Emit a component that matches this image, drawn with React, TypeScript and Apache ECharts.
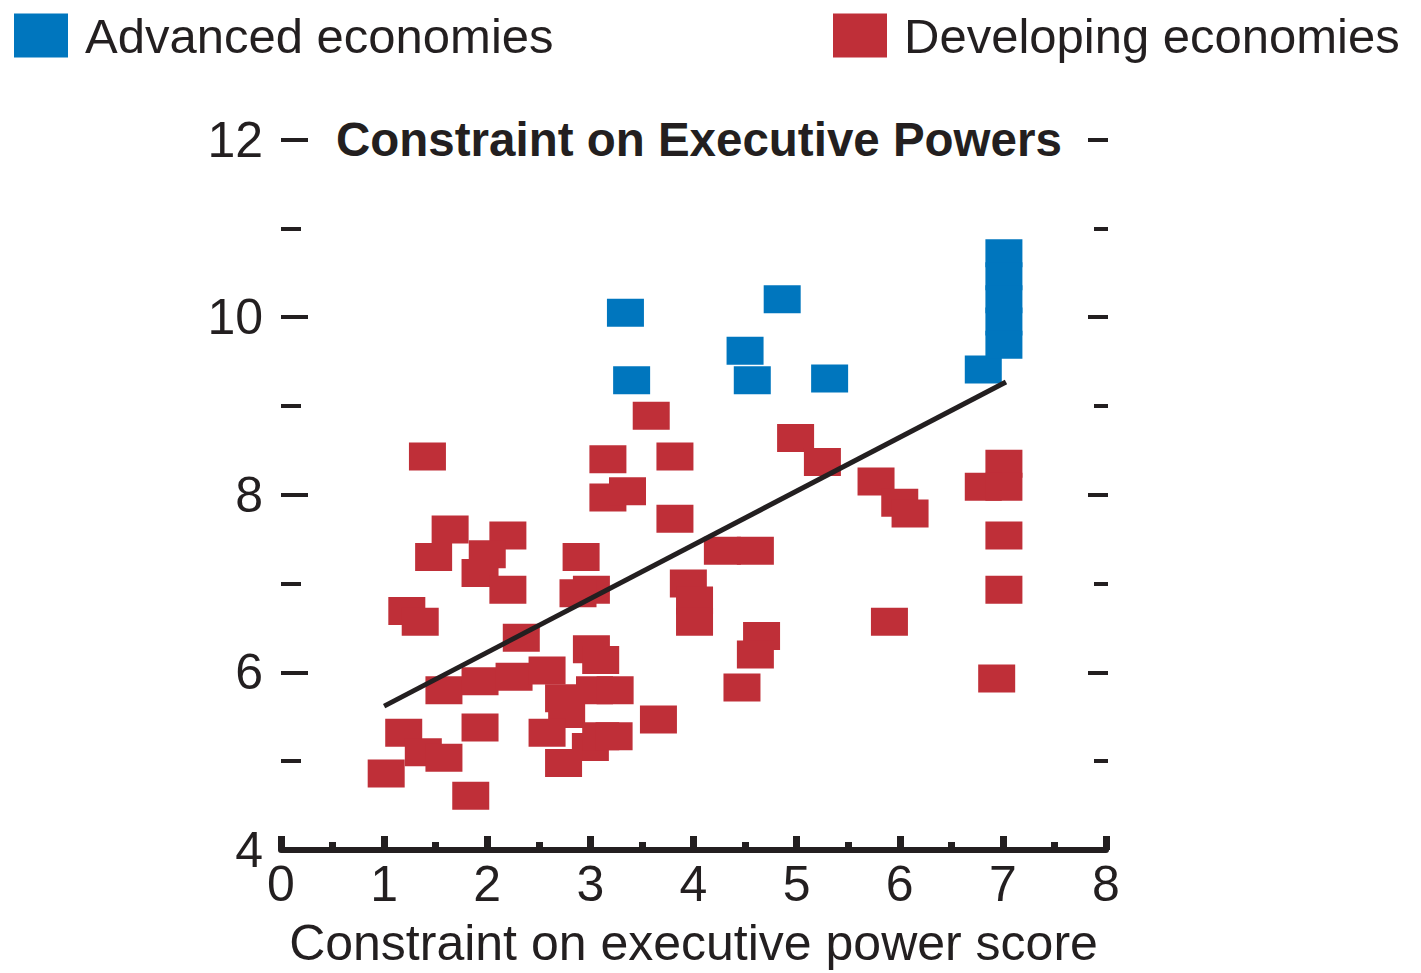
import React, { useEffect, useRef } from "react";
import * as echarts from "echarts";

const FONT = "'Liberation Sans', Arial, Helvetica, sans-serif";
const INK = "#231f20";
const BLUE = "#0076be";
const RED = "#bf2f38";

const seriesNames = ["Advanced economies", "Developing economies"];
const chartTitle = "Constraint on Executive Powers";
const xAxisName = "Constraint on executive power score";

const advancedX = [3.34, 3.40, 4.86, 4.50, 4.57, 5.32, 6.81, 7.01, 7.01, 7.01, 7.01, 7.01];
const advancedY = [10.05, 9.29, 10.20, 9.62, 9.29, 9.31, 9.41, 10.72, 10.46, 10.20, 9.95, 9.69];

const developingX = [
  3.59, 1.42, 3.17, 3.82, 3.17, 3.36, 3.82, 1.64, 2.20, 1.48,
  2.00, 1.93, 2.20, 2.91, 3.01, 2.88, 1.22, 1.35, 2.33, 3.01,
  3.10, 1.58, 1.93, 2.26, 2.58, 2.74, 3.04, 3.24, 2.77, 2.58,
  3.00, 3.10, 3.23, 2.74, 1.19, 1.38, 1.58, 1.93, 1.02, 1.84,
  3.66, 3.95, 4.01, 4.01, 4.99, 5.25, 5.77, 6.00, 6.10, 7.01,
  6.81, 7.01, 7.01, 7.01, 5.90, 6.94, 4.28, 4.60, 4.66, 4.60,
  4.47,
];
const developingY = [
  8.89, 8.43, 8.40, 8.43, 7.97, 8.04, 7.73, 7.61, 7.54, 7.30,
  7.33, 7.12, 6.93, 7.30, 6.93, 6.89, 6.69, 6.57, 6.39, 6.26,
  6.14, 5.80, 5.90, 5.95, 6.02, 5.71, 5.80, 5.80, 5.53, 5.32,
  5.16, 5.28, 5.28, 4.98, 5.32, 5.10, 5.04, 5.38, 4.86, 4.61,
  5.47, 7.00, 6.81, 6.57, 8.64, 8.37, 8.15, 7.91, 7.79, 8.35,
  8.09, 8.09, 7.54, 6.93, 6.57, 5.93, 7.37, 7.37, 6.41, 6.20,
  5.83,
];

const trendX = [1.0, 7.03];
const trendY = [5.62, 9.27];

const xTicks = [0, 1, 2, 3, 4, 5, 6, 7, 8];
const yTicks = [4, 6, 8, 10, 12];

function zip(xs: number[], ys: number[]) {
  return xs.map((x, i) => [x, ys[i]]);
}

export default function App() {
  const ref = useRef<HTMLDivElement>(null);

  useEffect(() => {
    if (!ref.current) return;
    const chart = echarts.init(ref.current, undefined, { renderer: "svg" });

    const labelStyle = { fontFamily: FONT, fontSize: 50, color: INK };
    const legendBase = {
      top: 11,
      padding: 0,
      itemWidth: 54,
      itemHeight: 44,
      icon: "rect",
      textStyle: { fontFamily: FONT, fontSize: 49, color: INK, padding: [0, 0, 10, 12] },
    };

    chart.setOption({
      animation: false,
      backgroundColor: "#ffffff",
      title: {
        text: chartTitle,
        left: 336,
        top: 115,
        padding: 0,
        textStyle: { fontFamily: FONT, fontSize: 47.5, fontWeight: "bold", color: INK },
      },
      legend: [
        { ...legendBase, data: [seriesNames[0]], left: 14 },
        { ...legendBase, data: [seriesNames[1]], left: 833 },
      ],
      grid: { left: 281, right: 315, top: 139.5, bottom: 119, containLabel: false },
      xAxis: {
        type: "value",
        min: xTicks[0],
        max: xTicks[xTicks.length - 1],
        interval: 1,
        name: xAxisName,
        nameLocation: "middle",
        nameGap: 68,
        nameTextStyle: { fontFamily: FONT, fontSize: 50, color: INK },
        axisLine: { show: true, onZero: false, lineStyle: { color: INK, width: 6 } },
        axisTick: { show: true, inside: true, length: 14, lineStyle: { color: INK, width: 7 } },
        minorTick: { show: true, splitNumber: 2, length: 8, lineStyle: { color: INK, width: 7 } },
        axisLabel: { ...labelStyle, margin: 9 },
        splitLine: { show: false },
        minorSplitLine: { show: false },
      },
      yAxis: [
        {
          type: "value",
          min: yTicks[0],
          max: yTicks[yTicks.length - 1],
          interval: 2,
          position: "left",
          offset: 5,
          axisLine: { show: false },
          axisTick: { show: true, inside: true, length: 27, lineStyle: { color: INK, width: 4 } },
          minorTick: { show: true, splitNumber: 2, length: 20, lineStyle: { color: INK, width: 4 } },
          axisLabel: { ...labelStyle, margin: 13 },
          splitLine: { show: false },
          minorSplitLine: { show: false },
        },
        {
          type: "value",
          min: yTicks[0],
          max: yTicks[yTicks.length - 1],
          interval: 2,
          position: "right",
          offset: 2,
          axisLine: { show: false },
          axisTick: { show: true, inside: true, length: 20, lineStyle: { color: INK, width: 4 } },
          minorTick: { show: true, splitNumber: 2, length: 14, lineStyle: { color: INK, width: 4 } },
          axisLabel: { show: false },
          splitLine: { show: false },
          minorSplitLine: { show: false },
        },
      ],
      series: [
        {
          name: seriesNames[1],
          type: "scatter",
          symbol: "rect",
          symbolSize: [37, 28],
          itemStyle: { color: RED, opacity: 1 },
          data: zip(developingX, developingY),
          z: 2,
        },
        {
          name: seriesNames[0],
          type: "scatter",
          symbol: "rect",
          symbolSize: [37, 28],
          itemStyle: { color: BLUE, opacity: 1 },
          data: zip(advancedX, advancedY),
          z: 3,
        },
        {
          name: "trend",
          type: "line",
          showSymbol: false,
          symbol: "none",
          lineStyle: { color: INK, width: 5 },
          data: zip(trendX, trendY),
          z: 4,
          silent: true,
        },
      ],
    });

    return () => chart.dispose();
  }, []);

  return (
    <div
      ref={ref}
      style={{ position: "fixed", left: 0, top: 0, width: 1421, height: 973, background: "#fff" }}
    />
  );
}
